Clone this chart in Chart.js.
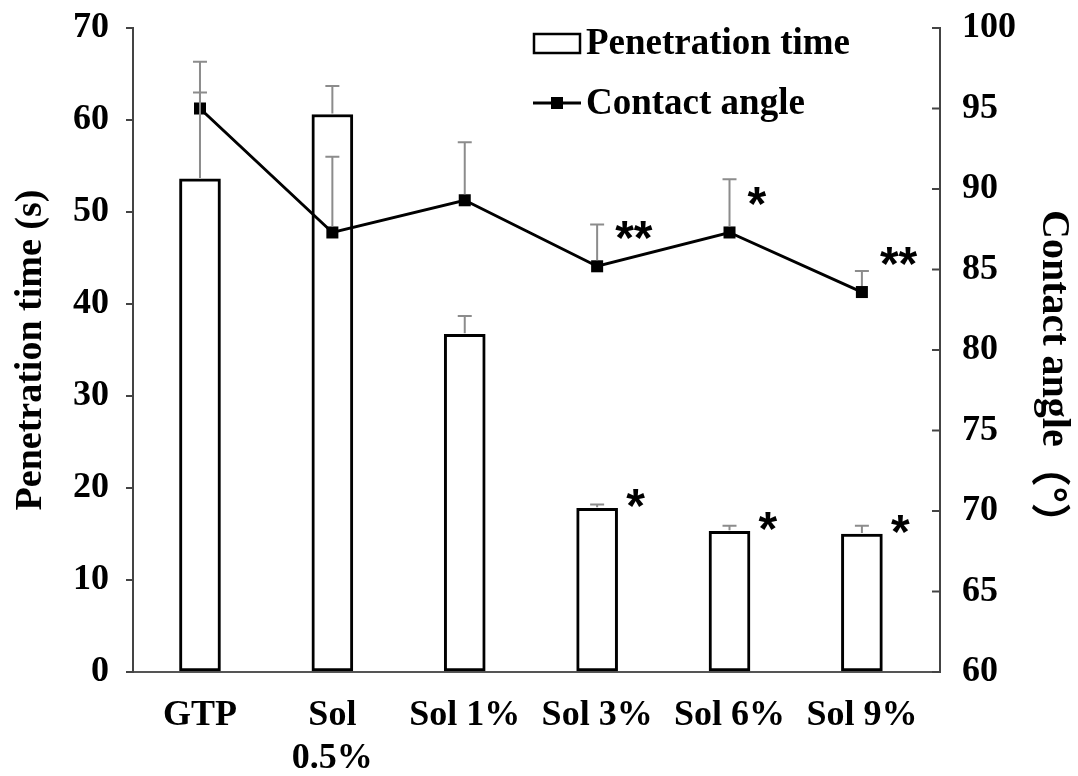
<!DOCTYPE html>
<html>
<head>
<meta charset="utf-8">
<script src="https://cdn.jsdelivr.net/npm/chart.js@4"></script>
<style>
  html, body { margin: 0; padding: 0; background: #fff; }
  #wrap { width: 1078px; height: 776px; position: relative; }
</style>
</head>
<body>
<div id="wrap"><canvas id="chart"></canvas></div>
<script>
// values
const categories = ["GTP", ["Sol", "0.5%"], "Sol 1%", "Sol 3%", "Sol 6%", "Sol 9%"];
const penetrationTime = [53.6, 60.6, 36.7, 17.8, 15.3, 15.0];
const penetrationErr = [9.4, 3.1, 2.0, 0.4, 0.6, 0.9];
const contactAngle = [95.0, 87.3, 89.3, 85.2, 87.3, 83.6];
const contactErr = [2.9, 4.7, 3.6, 2.6, 3.3, 1.3];
const barMarks = ["", "", "", "*", "*", "*"];
const lineMarks = ["", "", "", "**", "*", "**"];
const leftTicks = [0, 10, 20, 30, 40, 50, 60, 70];
const rightTicks = [60, 65, 70, 75, 80, 85, 90, 95, 100];

const SERIF = "'Liberation Serif', 'Times New Roman', serif";
const CJK = "'Noto Sans CJK SC', sans-serif";

// error bars (upward only) + significance marks
const extrasPlugin = {
  id: "extras",
  afterDatasetsDraw(chart) {
    const ctx = chart.ctx;
    const yL = chart.scales.y, yR = chart.scales.y1;
    const barMeta = chart.getDatasetMeta(0);
    const lineMeta = chart.getDatasetMeta(1);

    ctx.save();
    ctx.strokeStyle = "#8c8c8c";
    ctx.lineWidth = 2;
    const cap = 7;
    const drawErr = (x, y0, y1) => {
      ctx.beginPath();
      ctx.moveTo(x, y0);
      ctx.lineTo(x, y1);
      ctx.moveTo(x - cap, y1);
      ctx.lineTo(x + cap, y1);
      ctx.stroke();
    };
    penetrationTime.forEach((v, i) => {
      const x = barMeta.data[i].x;
      drawErr(x, yL.getPixelForValue(v) - 1, yL.getPixelForValue(v + penetrationErr[i]));
    });
    contactAngle.forEach((v, i) => {
      const x = lineMeta.data[i].x;
      drawErr(x, yR.getPixelForValue(v) - 6, yR.getPixelForValue(v + contactErr[i]));
    });

    ctx.fillStyle = "#000";
    ctx.font = "bold 48px 'Liberation Sans', Arial, sans-serif";
    ctx.textAlign = "left";
    ctx.textBaseline = "alphabetic";
    barMarks.forEach((m, i) => {
      if (!m) return;
      const el = barMeta.data[i];
      ctx.fillText(m, el.x + 29, el.y + 14);
    });
    lineMarks.forEach((m, i) => {
      if (!m) return;
      const el = lineMeta.data[i];
      ctx.fillText(m, el.x + 18, el.y - 12);
    });
    ctx.restore();
  },
  afterDraw(chart) {
    const ctx = chart.ctx;
    const yR = chart.scales.y1;
    ctx.save();
    // inward ticks on the right axis
    ctx.strokeStyle = "#444";
    ctx.lineWidth = 2;
    rightTicks.forEach(t => {
      const py = yR.getPixelForValue(t);
      ctx.beginPath();
      ctx.moveTo(yR.left - 8, py);
      ctx.lineTo(yR.left, py);
      ctx.stroke();
    });

    // right axis title, rotated, set lower than centre like the original
    ctx.save();
    ctx.translate(1053, 210);
    ctx.rotate(Math.PI / 2);
    ctx.fillStyle = "#000";
    ctx.textAlign = "left";
    ctx.textBaseline = "middle";
    ctx.font = "bold 40px " + SERIF;
    const head = "Contact angle";
    ctx.fillText(head, 0, 0);
    const w = ctx.measureText(head).width;
    ctx.font = "bold 40px " + CJK;
    ctx.fillText("（°）", w, 2);
    ctx.restore();

    // legend
    ctx.strokeStyle = "#000";
    ctx.lineWidth = 2.5;
    ctx.fillStyle = "#fff";
    ctx.fillRect(534, 34, 46, 19);
    ctx.strokeRect(534, 34, 46, 19);
    ctx.lineWidth = 3;
    ctx.beginPath();
    ctx.moveTo(533, 103);
    ctx.lineTo(581, 103);
    ctx.stroke();
    ctx.fillStyle = "#000";
    ctx.fillRect(551, 97, 12, 12);
    ctx.font = "bold 37px " + SERIF;
    ctx.textAlign = "left";
    ctx.textBaseline = "middle";
    ctx.fillText("Penetration time", 586, 44);
    ctx.fillText("Contact angle", 586, 104);
    ctx.restore();
  }
};

new Chart(document.getElementById("chart"), {
  data: {
    datasets: [
      {
        type: "bar",
        label: "Penetration time",
        data: penetrationTime.map((v, i) => ({ x: i, y: v })),
        yAxisID: "y",
        backgroundColor: "#fff",
        borderColor: "#000",
        borderWidth: 3,
        borderSkipped: false,
        barThickness: 41,
        order: 2
      },
      {
        type: "line",
        label: "Contact angle",
        data: contactAngle.map((v, i) => ({ x: i, y: v })),
        yAxisID: "y1",
        borderColor: "#000",
        borderWidth: 3,
        pointStyle: "rect",
        pointRadius: 8.5,
        pointBackgroundColor: "#000",
        pointBorderWidth: 0,
        tension: 0,
        order: 1
      }
    ]
  },
  options: {
    responsive: true,
    maintainAspectRatio: false,
    animation: false,
    layout: { padding: { top: 28, left: 0, right: 0, bottom: 0 } },
    plugins: { legend: { display: false }, tooltip: { enabled: false } },
    scales: {
      x: {
        type: "linear",
        offset: false,
        min: -0.506,
        max: 5.59,
        afterBuildTicks: s => { s.ticks = categories.map((c, i) => ({ value: i })); },
        afterFit: s => { s.height = 104; },
        grid: { display: false, offset: false },
        border: { display: true, color: "#555", width: 2 },
        ticks: {
          autoSkip: false,
          maxRotation: 0,
          padding: 14,
          color: "#000",
          font: { family: SERIF, size: 36, weight: "bold", lineHeight: 1.2 },
          callback: v => categories[v]
        }
      },
      y: {
        position: "left",
        min: 0,
        max: 70,
        afterBuildTicks: s => { s.ticks = leftTicks.map(v => ({ value: v })); },
        afterFit: s => { s.width = 133; s.paddingTop = 0; s.paddingBottom = 0; },
        grid: { display: true, drawOnChartArea: false, drawTicks: true, tickLength: 7, color: "#444", lineWidth: 2 },
        border: { display: true, color: "#444", width: 2 },
        ticks: {
          padding: 17,
          color: "#000",
          font: { family: SERIF, size: 36, weight: "bold" }
        },
        title: {
          display: true,
          text: "Penetration time (s)",
          color: "#000",
          padding: { top: 8, bottom: 0 },
          font: { family: SERIF, size: 38, weight: "bold" }
        }
      },
      y1: {
        position: "right",
        min: 60,
        max: 100,
        afterBuildTicks: s => { s.ticks = rightTicks.map(v => ({ value: v })); },
        afterFit: s => { s.width = 138; s.paddingTop = 0; s.paddingBottom = 0; },
        grid: { display: false, drawOnChartArea: false },
        border: { display: true, color: "#444", width: 2 },
        ticks: {
          padding: 14,
          color: "#000",
          font: { family: SERIF, size: 36, weight: "bold" }
        },
        title: { display: false }
      }
    }
  },
  plugins: [extrasPlugin]
});
</script>
</body>
</html>
